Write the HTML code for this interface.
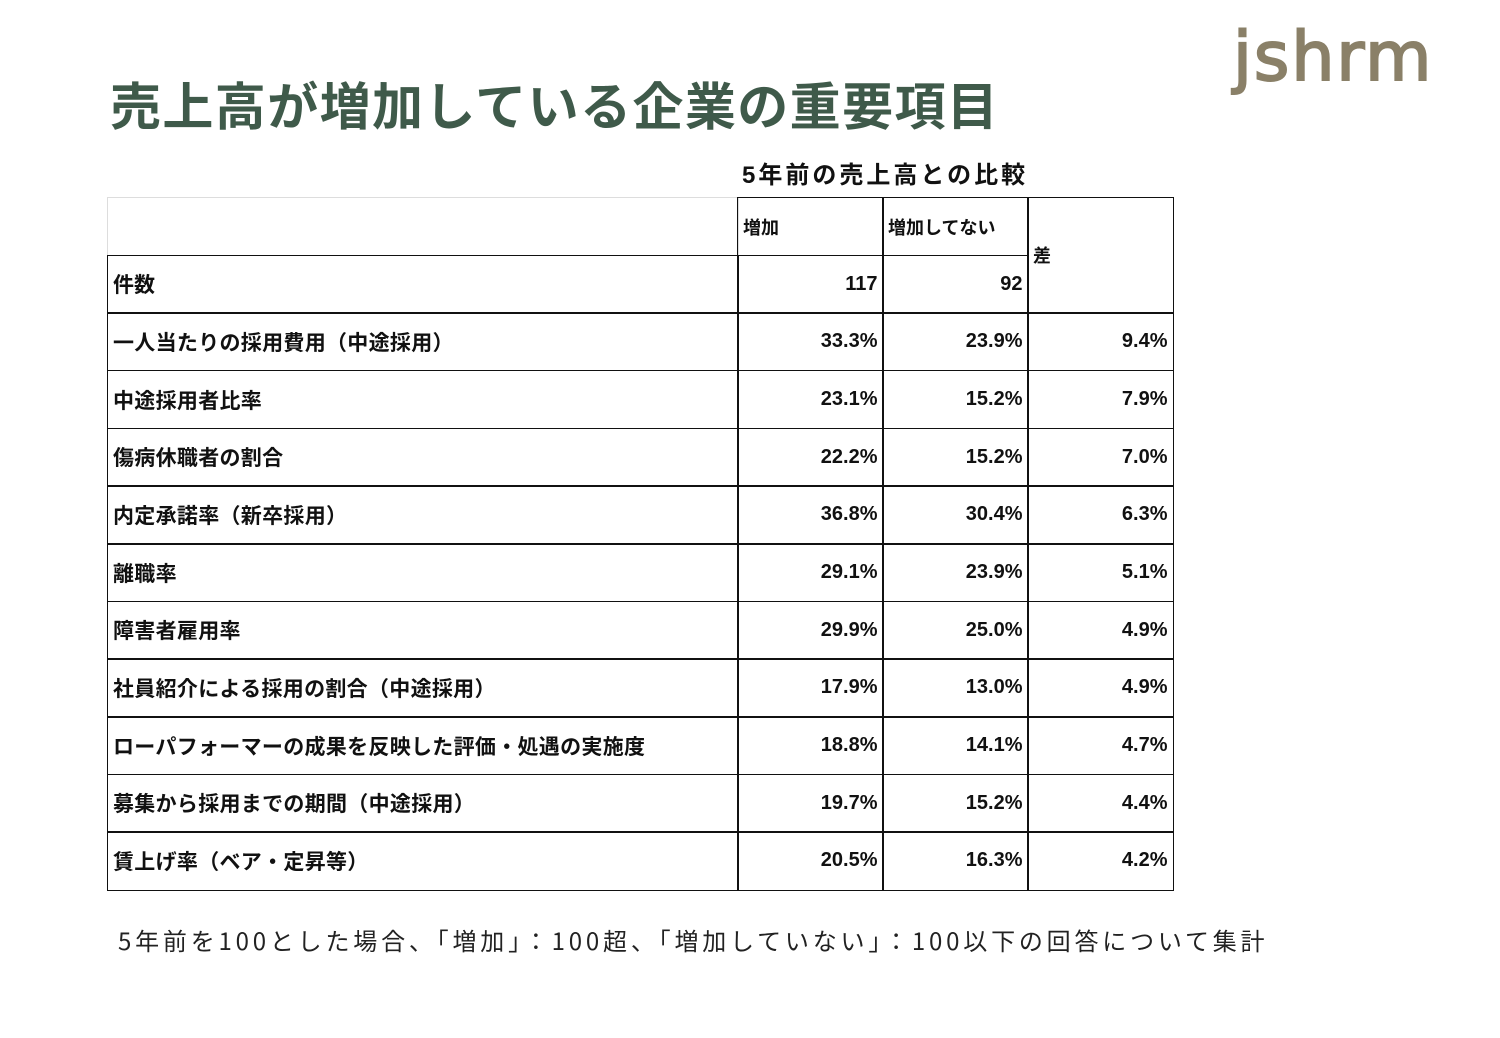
<!DOCTYPE html>
<html><head><meta charset="utf-8">
<style>
body{margin:0;width:1500px;height:1038px;background:#fff;position:relative;overflow:hidden;font-family:"Liberation Sans","Noto Sans CJK JP",sans-serif;}
.a{position:absolute;}
.c{position:absolute;box-sizing:border-box;border:1.5px solid #111;font-weight:bold;font-size:21px;color:#111;display:flex;align-items:center;padding:0 5px;}
.n{justify-content:flex-end;font-size:20px;}
</style></head><body>
<div class="a" style="left:1233px;top:18px;font-size:68px;color:#8a8068;letter-spacing:2px;-webkit-text-stroke:2px #8a8068;font-family:'DejaVu Sans',sans-serif;">jshrm</div>
<div class="a" style="left:110px;top:66px;font-size:51px;font-weight:bold;color:#3f5a4a;letter-spacing:1.4px;">売上高が増加している企業の重要項目</div>
<div class="a" style="left:742px;top:155px;font-size:24px;font-weight:bold;color:#111;letter-spacing:3px;">5年前の売上高との比較</div>
<div id="tbl"></div>
<div class="a" style="left:118px;top:922px;font-size:24px;color:#222;font-family:'Noto Sans CJK JP',sans-serif;letter-spacing:3.8px;white-space:nowrap;">5年前を100とした場合、「増加」：100超、「増加していない」：100以下の回答について集計</div>
<script>
const labels=["一人当たりの採用費用（中途採用）","中途採用者比率","傷病休職者の割合","内定承諾率（新卒採用）","離職率","障害者雇用率","社員紹介による採用の割合（中途採用）","ローパフォーマーの成果を反映した評価・処遇の実施度","募集から採用までの期間（中途採用）","賃上げ率（ベア・定昇等）"];
const inc=[33.3,23.1,22.2,36.8,29.1,29.9,17.9,18.8,19.7,20.5];
const notInc=[23.9,15.2,15.2,30.4,23.9,25.0,13.0,14.1,15.2,16.3];
const diff=[9.4,7.9,7.0,6.3,5.1,4.9,4.9,4.7,4.4,4.2];
const counts=[117,92];
const X=[107,737,882,1027,1172], Y0=197, H=57.67;
const t=document.getElementById('tbl');
function cell(x0,x1,y0,y1,txt,cls,name){
  const d=document.createElement('div');
  d.className='c '+(cls||'');
  d.style.left=x0+'px';d.style.top=y0+'px';d.style.width=(x1-x0+1.5)+'px';d.style.height=(y1-y0+1.5)+'px';
  d.textContent=txt;
  
  
  t.appendChild(d);return d;
}
const e=cell(X[0],X[1],Y0,Y0+H,'','', 'blank-header-cell');e.style.borderColor='#ddd';
cell(X[1],X[2],Y0,Y0+H,'増加','', 'header-increase').style.fontSize='18px';
cell(X[2],X[3],Y0,Y0+H,'増加してない','', 'header-not-increase').style.fontSize='18px';
cell(X[3],X[4],Y0,Y0+2*H,'差','', 'header-diff').style.fontSize='18px';
cell(X[0],X[1],Y0+H,Y0+2*H,'件数','', 'count-label');
cell(X[1],X[2],Y0+H,Y0+2*H,String(counts[0]),'n','count-increase');
cell(X[2],X[3],Y0+H,Y0+2*H,String(counts[1]),'n','count-not-increase');
labels.forEach((l,i)=>{
  const y0=Y0+(i+2)*H,y1=y0+H;
  const c=cell(X[0],X[1],y0,y1,l,'','row-label');
  c.style.letterSpacing='0.3px';
  cell(X[1],X[2],y0,y1,inc[i].toFixed(1)+'%','n','value-increase');
  cell(X[2],X[3],y0,y1,notInc[i].toFixed(1)+'%','n','value-not-increase');
  cell(X[3],X[4],y0,y1,diff[i].toFixed(1)+'%','n','value-diff');
});
</script>
</body></html>
